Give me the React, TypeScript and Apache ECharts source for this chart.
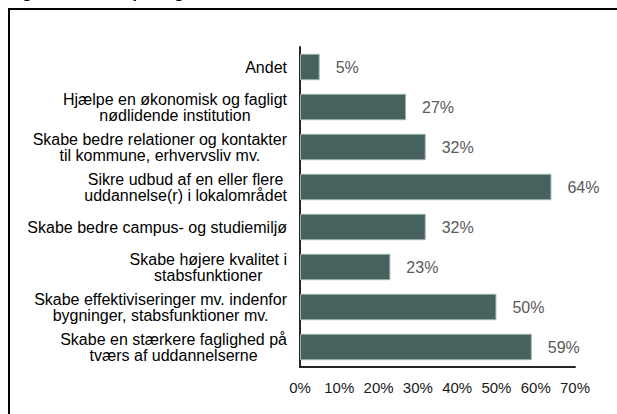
import React, { useEffect, useRef } from "react";
import * as echarts from "echarts";

const categories: string[] = [
  "Andet",
  "Hjælpe en økonomisk og fagligt\nnødlidende institution",
  "Skabe bedre relationer og kontakter\ntil kommune, erhvervsliv mv.",
  "Sikre udbud af en eller flere\nuddannelse(r) i lokalområdet",
  "Skabe bedre campus- og studiemiljø",
  "Skabe højere kvalitet i\nstabsfunktioner",
  "Skabe effektiviseringer mv. indenfor\nbygninger, stabsfunktioner mv.",
  "Skabe en stærkere faglighed på\ntværs af uddannelserne",
];
const values: number[] = [5, 27, 32, 64, 32, 23, 50, 59];
const xTicks = { min: 0, max: 70, interval: 10 };
const titleText = "Figur 4: Motiver på dagsordenen";

const FONT = "'Liberation Sans', Arial, sans-serif";

export default function App() {
  const ref = useRef<HTMLDivElement>(null);
  useEffect(() => {
    if (!ref.current) return;
    const chart = echarts.init(ref.current, null, { renderer: "svg" });
    chart.setOption({
      animation: false,
      backgroundColor: "#ffffff",
      textStyle: { fontFamily: FONT },
      graphic: [
        {
          type: "text",
          left: 8,
          top: -16,
          style: {
            text: titleText,
            font: `bold 16px ${FONT}`,
            fill: "#000000",
          },
        },
        {
          type: "polyline",
          shape: { points: [[9, 414], [9, 9], [617, 9]] },
          style: { stroke: "#000000", lineWidth: 2, fill: "none" },
        },
      ],
      grid: { left: 300, right: 42, top: 47, bottom: 47, containLabel: false },
      xAxis: {
        type: "value",
        min: xTicks.min,
        max: xTicks.max,
        interval: xTicks.interval,
        axisLine: { show: true, lineStyle: { color: "#262626", width: 2 } },
        axisTick: { show: false },
        splitLine: { show: false },
        axisLabel: {
          formatter: "{value}%",
          color: "#1a1a1a",
          fontSize: 15,
          margin: 13,
          fontFamily: FONT,
        },
      },
      yAxis: {
        type: "category",
        inverse: true,
        data: categories,
        axisLine: { show: true, lineStyle: { color: "#262626", width: 2 } },
        axisTick: { show: false },
        axisLabel: {
          margin: 13,
          align: "right",
          formatter: (v: string) =>
            v
              .split("\n")
              .map((l) => `{c|${l}}`)
              .join("\n"),
          rich: {
            c: {
              fontSize: 16,
              lineHeight: 16,
              color: "#000000",
              align: "center",
              fontFamily: FONT,
            },
          },
        },
      },
      series: [
        {
          type: "bar",
          data: values,
          barCategoryGap: "34%",
          itemStyle: {
            color: "#46625e",
            borderColor: "#9fb0ad",
            borderWidth: 1,
          },
          label: {
            show: true,
            position: "right",
            distance: 16,
            formatter: "{c}%",
            color: "#595959",
            fontSize: 16,
            fontFamily: FONT,
          },
        },
      ],
    });
    return () => chart.dispose();
  }, []);
  return (
    <div
      ref={ref}
      style={{ position: "absolute", left: 0, top: 0, width: 617, height: 414 }}
    />
  );
}
